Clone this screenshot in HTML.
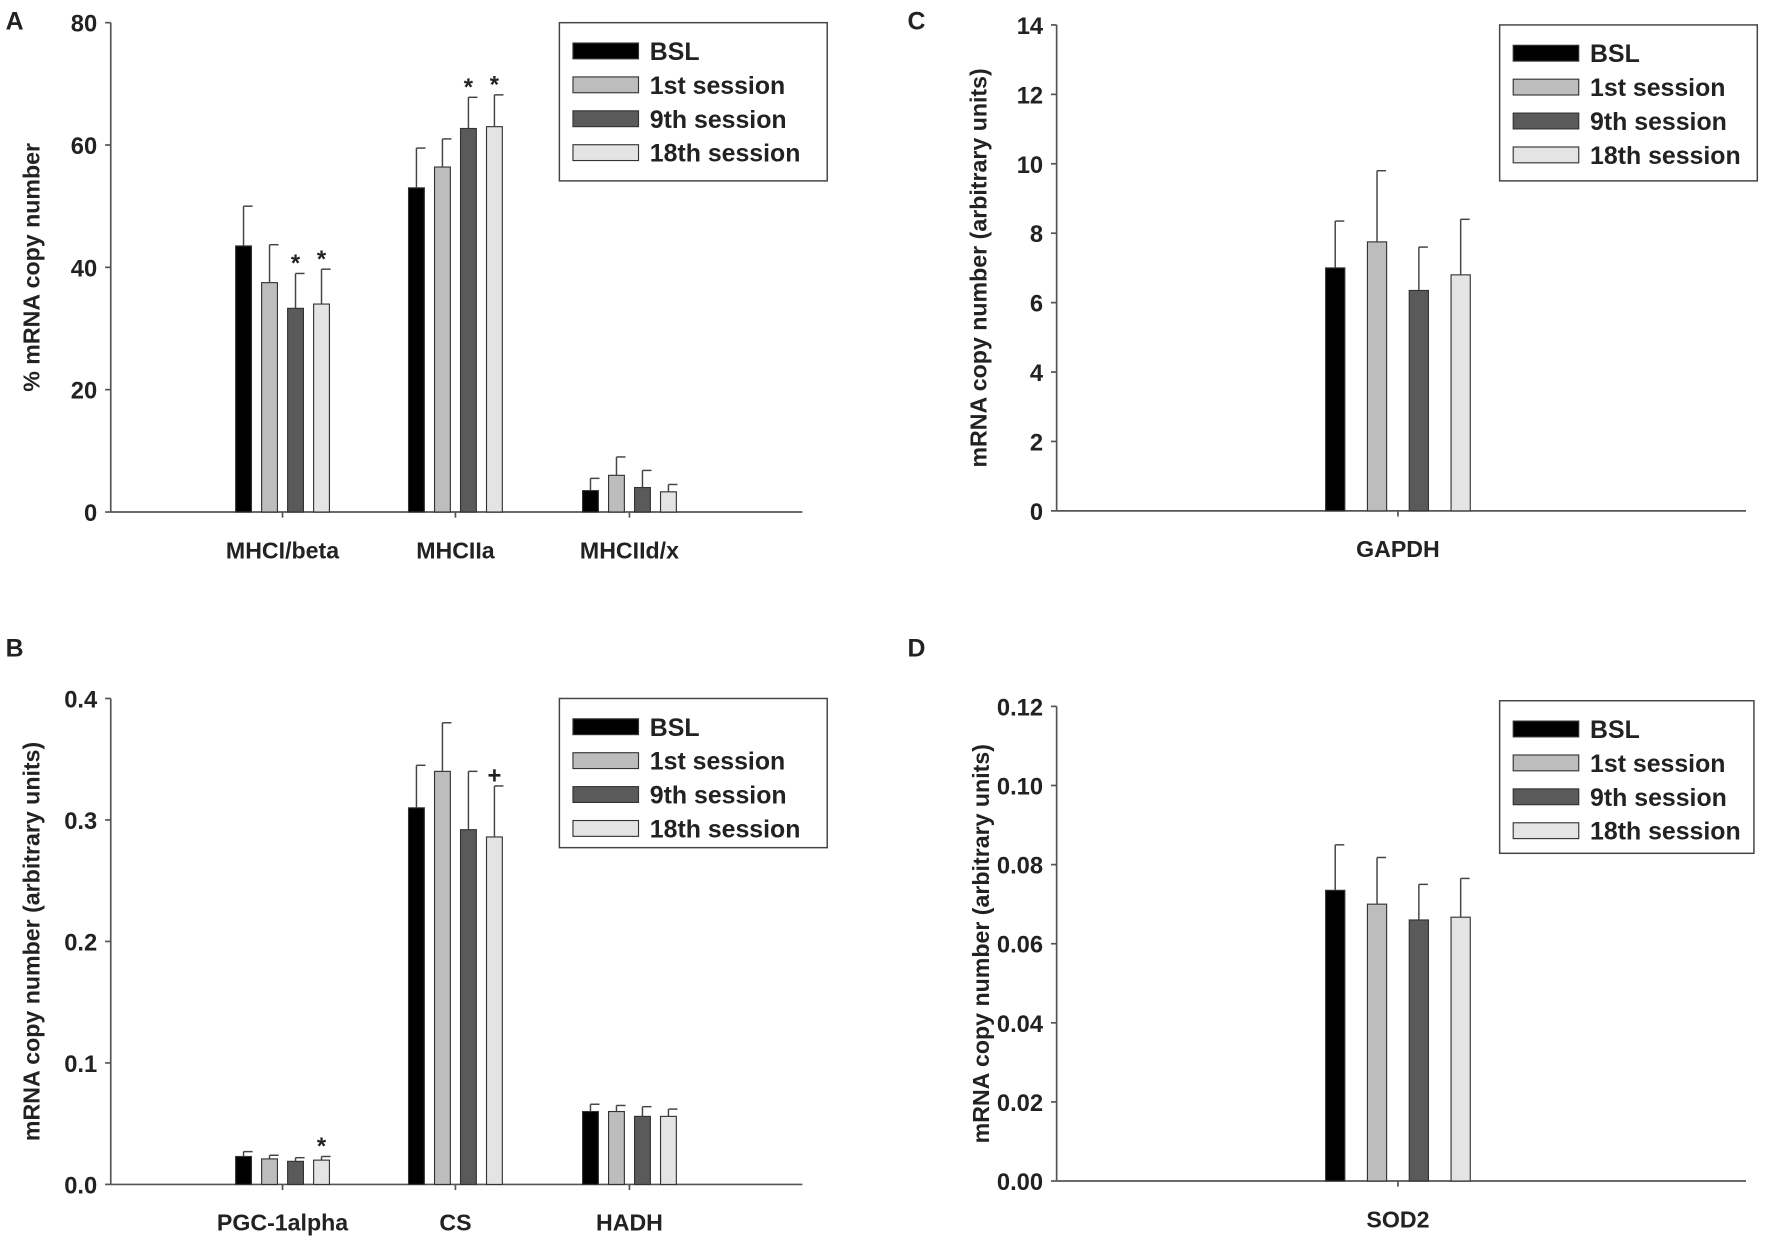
<!DOCTYPE html>
<html><head><meta charset="utf-8"><style>
html,body{margin:0;padding:0;background:#fff}
svg{display:block}
text{font-family:"Liberation Sans",Arial,sans-serif;font-weight:bold;fill:#222}
</style></head><body>
<svg id="fig" width="1772" height="1241" viewBox="0 0 1568 1098" xmlns="http://www.w3.org/2000/svg"></svg>
<script>
const seriesNames = ["BSL","1st session","9th session","18th session"];
const seriesColors = ["#000000","#bdbdbd","#5a5a5a","#e4e4e4"];

const catsA = ["MHCI/beta","MHCIIa","MHCIId/x"];
const meanA = [[43.5,53,3.5],[37.5,56.4,6],[33.3,62.7,4],[34,63,3.3]];
const errA  = [[6.5,6.5,2],[6.2,4.6,3],[5.7,5.1,2.8],[5.7,5.2,1.2]];
const ticksA = [0,20,40,60,80];
const marksA = [[null,null,null],[null,null,null],["*","*",null],["*","*",null]];

const catsB = ["PGC-1alpha","CS","HADH"];
const meanB = [[0.023,0.31,0.060],[0.021,0.34,0.060],[0.019,0.292,0.056],[0.020,0.286,0.056]];
const errB  = [[0.004,0.035,0.006],[0.003,0.04,0.005],[0.003,0.048,0.008],[0.003,0.042,0.006]];
const ticksB = [0,0.1,0.2,0.3,0.4];
const tickLabB = ["0.0","0.1","0.2","0.3","0.4"];
const marksB = [[null,null,null],[null,null,null],[null,null,null],["*","+",null]];

const catsC = ["GAPDH"];
const meanC = [[7.0],[7.75],[6.35],[6.8]];
const errC  = [[1.35],[2.05],[1.25],[1.6]];
const ticksC = [0,2,4,6,8,10,12,14];

const catsD = ["SOD2"];
const meanD = [[0.0735],[0.070],[0.066],[0.0667]];
const errD  = [[0.0115],[0.0118],[0.009],[0.0098]];
const ticksD = [0,0.02,0.04,0.06,0.08,0.10,0.12];
const tickLabD = ["0.00","0.02","0.04","0.06","0.08","0.10","0.12"];

const NS="http://www.w3.org/2000/svg";
const svg=document.getElementById('fig');
function mk(tag,attrs,parent,txt){const e=document.createElementNS(NS,tag);for(const k in attrs)e.setAttribute(k,attrs[k]);if(txt!==undefined)e.textContent=txt;(parent||svg).appendChild(e);return e;}

function panel(o){
  const g=mk('g',{});
  
  
  const max=o.ticks[o.ticks.length-1];
  const y=v=>o.y0-(v/max)*(o.y0-o.yTop);
  const lbl=mk('text',{x:o.lx,y:o.ly,'font-size':22},g,o.letter);
  
  
  const ya=mk('line',{x1:o.ax,y1:o.yTop,x2:o.ax,y2:o.y0,stroke:'#555','stroke-width':1.5},g);
  
  
  const xa=mk('line',{x1:o.ax,y1:o.y0,x2:o.axEnd,y2:o.y0,stroke:'#555','stroke-width':1.5},g);
  
  
  o.ticks.forEach((t,i)=>{
    mk('line',{x1:o.ax-5,y1:y(t),x2:o.ax,y2:y(t),stroke:'#555','stroke-width':1.5},g);
    const tl=mk('text',{x:o.ax-12,y:y(t)+8,'font-size':21,'text-anchor':'end'},g,o.tickLab?o.tickLab[i]:String(t));
    
    
  });
  const yt=mk('text',{x:0,y:0,'font-size':20.5,'text-anchor':'middle',transform:`translate(${o.tx},${(o.yTop+o.y0)/2}) rotate(-90)`},g,o.ytitle);
  
  
  o.cats.forEach((c,ci)=>{
    const cx=o.cx[ci];
    mk('line',{x1:cx,y1:o.y0,x2:cx,y2:o.y0+5,stroke:'#555','stroke-width':1.5},g);
    const cl=mk('text',{x:cx,y:o.y0+41,'font-size':20.5,'text-anchor':'middle'},g,c);
    
    
    for(let s=0;s<4;s++){
      const v=o.mean[s][ci], e=o.err[s][ci];
      const bx=cx+(s-1.5)*o.step-o.bw/2;
      const r=mk('rect',{x:bx,y:y(v),width:o.bw,height:o.y0-y(v),fill:seriesColors[s],stroke:'#333','stroke-width':1},g);
      
      
      const mx=bx+o.bw/2;
      mk('line',{x1:mx,y1:y(v),x2:mx,y2:y(v+e),stroke:'#444','stroke-width':1.3},g);
      mk('line',{x1:mx,y1:y(v+e),x2:mx+8,y2:y(v+e),stroke:'#444','stroke-width':1.3},g);
      if(o.marks&&o.marks[s][ci]){
        const st=mk('text',{x:mx,y:y(v+e)-2,'font-size':21,'text-anchor':'middle',fill:'#444'},g,o.marks[s][ci]);
        
        
      }
    }
  });
  const lg=mk('g',{},g);
  
  
  mk('rect',{x:o.lgx,y:o.lgy,width:o.lgw,height:o.lgh,fill:'#fff',stroke:'#444','stroke-width':1.3},lg);
  seriesNames.forEach((n,s)=>{
    const ey=o.lgy+25+s*30;
    const sw=mk('rect',{x:o.lgx+12,y:ey-7,width:58,height:14,fill:seriesColors[s],stroke:'#333','stroke-width':1},lg);
    
    
    const t=mk('text',{x:o.lgx+80,y:ey+8,'font-size':22},lg,n);
    
    
  });
}

panel({id:'a',letter:'A',lx:5,ly:26,ax:98,axEnd:710,yTop:20,y0:453,ticks:ticksA,tx:35,ytitle:'% mRNA copy number',
  cats:catsA,cx:[250,403,557],mean:meanA,err:errA,marks:marksA,step:23,bw:14,lgx:495,lgy:20,lgw:237,lgh:140});
panel({id:'c',letter:'C',lx:803,ly:26,ax:935,axEnd:1545,yTop:22,y0:452,ticks:ticksC,tx:873,ytitle:'mRNA copy number (arbitrary units)',
  cats:catsC,cx:[1237],mean:meanC,err:errC,step:37,bw:17,lgx:1327,lgy:22,lgw:228,lgh:138});
panel({id:'b',letter:'B',lx:5,ly:581,ax:98,axEnd:710,yTop:618,y0:1048,ticks:ticksB,tickLab:tickLabB,tx:35,ytitle:'mRNA copy number (arbitrary units)',
  cats:catsB,cx:[250,403,557],mean:meanB,err:errB,marks:marksB,step:23,bw:14,lgx:495,lgy:618,lgw:237,lgh:132});
panel({id:'d',letter:'D',lx:803,ly:581,ax:935,axEnd:1545,yTop:625,y0:1045,ticks:ticksD,tickLab:tickLabD,tx:875,ytitle:'mRNA copy number (arbitrary units)',
  cats:catsD,cx:[1237],mean:meanD,err:errD,step:37,bw:17,lgx:1327,lgy:620,lgw:225,lgh:135});
</script>
</body></html>
